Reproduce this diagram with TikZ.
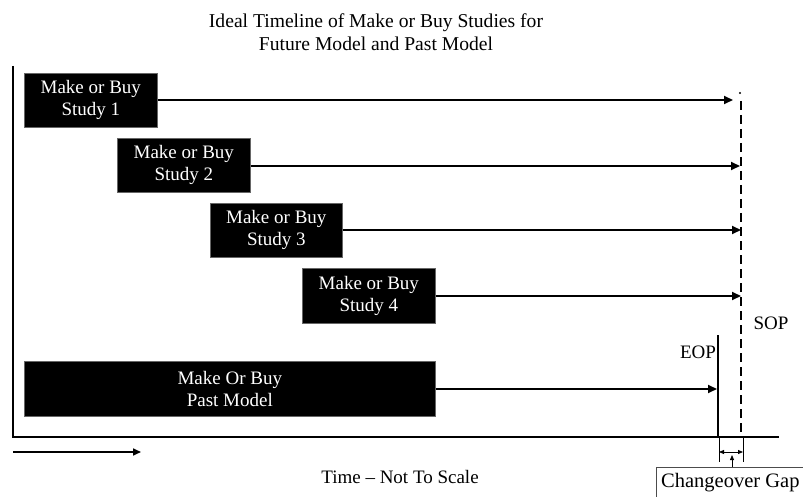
\documentclass[tikz,border=0pt]{standalone}
\usepackage{fontspec}
\setmainfont{Liberation Serif}
\usetikzlibrary{arrows.meta}
\begin{document}
\begin{tikzpicture}[x=1pt,y=-1pt,
  study/.style={fill=black,draw=black!60,line width=0.6pt,text=white,align=center,
    inner sep=0pt,font=\fontsize{19}{22}\selectfont,anchor=north west},
  flow/.style={line width=1.8pt,-{Triangle[length=9pt,width=8pt]}},
  axisline/.style={line width=2pt},
  lbl/.style={font=\fontsize{19}{22}\selectfont,inner sep=0pt}]
\useasboundingbox (0,0) rectangle (803,497);

% title
\node[lbl,align=center,font=\fontsize{19.6}{23.5}\selectfont] (title) at (376,32) {Ideal Timeline of Make or Buy Studies for\\Future Model and Past Model};

% axes
\coordinate (top) at (13,66);
\coordinate (origin) at (13,437);
\coordinate (axend) at (779,437);
\draw[axisline] (top) -- (origin) -- (axend);

% study boxes
\node[study,minimum width=133pt,minimum height=54pt] (s1) at (24,73) {Make or Buy\\Study 1};
\node[study,minimum width=133pt,minimum height=54pt] (s2) at (117,138) {Make or Buy\\Study 2};
\node[study,minimum width=132pt,minimum height=54pt] (s3) at (210,203) {Make or Buy\\Study 3};
\node[study,minimum width=133pt,minimum height=55pt] (s4) at (302,268) {Make or Buy\\Study 4};
\node[study,minimum width=411pt,minimum height=55pt] (past) at (24,361) {Make Or Buy\\Past Model};

% SOP (dashed) and EOP lines
\coordinate (sopDot) at (740,93);
\coordinate (sopTop) at (741,101);
\coordinate (sopBot) at (741,437);
\coordinate (eopTop) at (718,335);
\coordinate (eopBot) at (718,437);
\fill (sopDot) circle (1.2pt);
\draw[line width=2.6pt,dash pattern=on 9pt off 5pt] (sopTop) -- (sopBot);
\draw[line width=2pt] (eopTop) -- (eopBot);

% arrow ends on the SOP / EOP lines
\coordinate (e1) at (733,100);
\coordinate (e2) at (740,166);
\coordinate (e3) at (741,230);
\coordinate (e4) at (741,296);
\coordinate (e5) at (717,389);
\draw[flow] (s1.east |- e1) -- (e1);
\draw[flow] (s2.east |- e2) -- (e2);
\draw[flow] (s3.east |- e3) -- (e3);
\draw[flow] (s4.east |- e4) -- (e4);
\draw[flow] (past.east |- e5) -- (e5);

\node[lbl] (sop) at (771,323) {SOP};
\node[lbl] (eop) at (698,352) {EOP};

% time direction
\coordinate (t0) at (13,452);
\coordinate (t1) at (141,452);
\draw[line width=1.6pt,-{Triangle[length=8pt,width=7pt]}] (t0) -- (t1);
\node[lbl] (time) at (400,477) {Time -- Not To Scale};

% changeover gap dimension
\coordinate (g1) at (719,437);
\coordinate (g2) at (743,437);
\draw[line width=0.6pt] (g1) -- (719,462);
\draw[line width=0.6pt] (g2) -- (743,462);
\draw[line width=0.8pt,{Triangle[length=5pt,width=4pt]}-{Triangle[length=5pt,width=4pt]}] (719,452) -- (743,452);
\begin{scope}
\clip (0,0) rectangle (803,497);
\draw[line width=0.8pt,draw=black!70] (656,505) -- (656,467) -- (810,467);
\end{scope}
\node[lbl,anchor=west,font=\fontsize{20.5}{24}\selectfont] (gap) at (661,483) {Changeover Gap};
\draw[line width=0.8pt,-{Triangle[length=5pt,width=4pt]}] (732,467) -- (732,455);
\end{tikzpicture}
\end{document}
